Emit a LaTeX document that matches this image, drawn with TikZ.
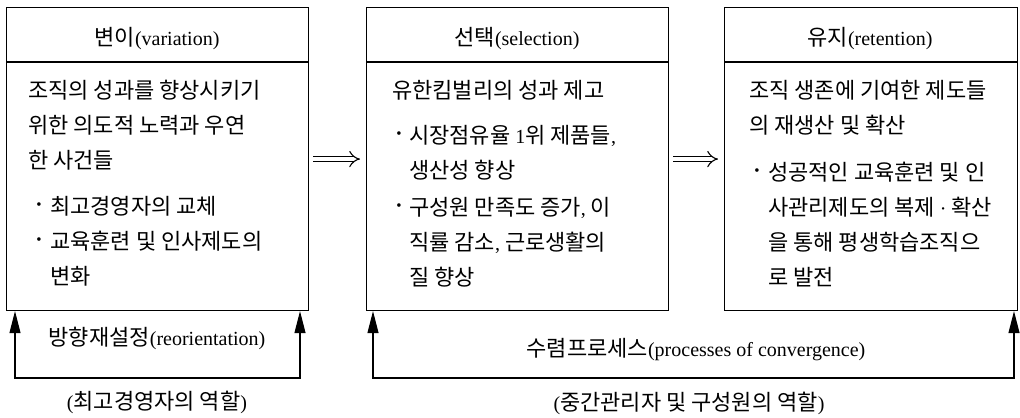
\documentclass[tikz,border=0pt]{standalone}
\usepackage{fontspec}
\setmainfont{Noto Sans CJK KR}
\newfontfamily\latf{Liberation Serif}
\newcommand{\lat}{\latf\fontsize{20bp}{22bp}\selectfont}
\usetikzlibrary{arrows.meta}
\newcommand{\fsz}{\fontsize{22bp}{24bp}\selectfont}
\tikzset{
  boxst/.style={draw=black, line width=1.1bp, inner sep=0, anchor=north west},
  divst/.style={draw=black, line width=1.1bp},
  txt/.style={anchor=base west, inner sep=0, font=\fsz},
  ctr/.style={anchor=base, inner sep=0, font=\fsz},
  bul/.style={anchor=center, inner sep=0, font=\latf\fontsize{15bp}{15bp}\selectfont},
  impl/.style={double, double distance=4.6bp, line width=1.1bp, -{Implies[length=12bp,width=24bp]}},
  fb/.style={line width=1.1bp, {Triangle[length=22bp,width=11bp]}-{Triangle[length=22bp,width=11bp]}}
}
\begin{document}
\begin{tikzpicture}[x=1bp,y=-1bp]
\useasboundingbox (0,0) rectangle (1020,417);
% boxes
\node[boxst, minimum width=302bp, minimum height=303bp] (b1) at (6,7) {};
\node[boxst, minimum width=302bp, minimum height=303bp] (b2) at (366,7) {};
\node[boxst, minimum width=293bp, minimum height=303bp] (b3) at (724,7) {};
\coordinate (d1) at (6,62); \coordinate (d2) at (366,62); \coordinate (d3) at (724,62);
\draw[divst] (d1) -- (d1 -| b1.east);
\draw[divst] (d2) -- (d2 -| b2.east);
\draw[divst] (d3) -- (d3 -| b3.east);
% headers
\node[ctr] (h1) at (157,45) {변이{\lat(variation)}};
\node[ctr] (h2) at (517,45) {선택{\lat(selection)}};
\node[ctr] (h3) at (870,45) {유지{\lat(retention)}};
% box 1 text
\node[txt] (a1) at (28,98) {조직의 성과를 향상시키기};
\node[txt] (a2) at (28,133) {위한 의도적 노력과 우연};
\node[txt] (a3) at (28,168) {한 사건들};
\node[bul] (ab1) at (39,206) {•};
\node[txt] (a4) at (50,214) {최고경영자의 교체};
\node[bul] (ab2) at (39,241) {•};
\node[txt] (a5) at (50,249) {교육훈련 및 인사제도의};
\node[txt] (a6) at (50,284) {변화};
% box 2 text
\node[txt] (s1) at (392,98) {유한킴벌리의 성과 제고};
\node[bul] (sb1) at (399,135) {•};
\node[txt] (s2) at (409,143) {시장점유율 {\lat 1}위 제품들{\lat,}};
\node[txt] (s3) at (409,178) {생산성 향상};
\node[bul] (sb2) at (399,207) {•};
\node[txt] (s4) at (409,215) {구성원 만족도 증가{\lat,} 이};
\node[txt] (s5) at (409,250) {직률 감소{\lat,} 근로생활의};
\node[txt] (s6) at (409,285) {질 향상};
% box 3 text
\node[txt] (r1) at (749,98) {조직 생존에 기여한 제도들};
\node[txt] (r2) at (749,133) {의 재생산 및 확산};
\node[bul] (rb1) at (757,172) {•};
\node[txt] (r3) at (768,180) {성공적인 교육훈련 및 인};
\node[txt] (r4) at (768,215) {사관리제도의 복제 {\lat·} 확산};
\node[txt] (r5) at (768,250) {을 통해 평생학습조직으};
\node[txt] (r6) at (768,285) {로 발전};
% implies arrows
\draw[impl, shorten <=4bp, shorten >=6bp] (b1.east) -- (b2.west);
\draw[impl, shorten <=4bp, shorten >=6bp] (b2.east) -- (b3.west);
% feedback loops
\coordinate (l1) at (15,378); \coordinate (m1) at (300,378);
\coordinate (l2) at (373,378); \coordinate (m2) at (1014,378);
\draw[fb] (b1.south -| l1) -- (l1) -- (m1) -- (b1.south -| m1);
\draw[fb] (b2.south -| l2) -- (l2) -- (m2) -- (b3.south -| m2);
% labels
\node[ctr] (f1) at (157,345) {방향재설정{\lat(reorientation)}};
\node[ctr] (g1) at (157,409) {{\lat(}최고경영자의 역할{\lat)}};
\node[ctr] (f2) at (696,356) {수렴프로세스{\lat(processes of convergence)}};
\node[ctr] (g2) at (689,410) {{\lat(}중간관리자 및 구성원의 역할{\lat)}};
\end{tikzpicture}
\end{document}
